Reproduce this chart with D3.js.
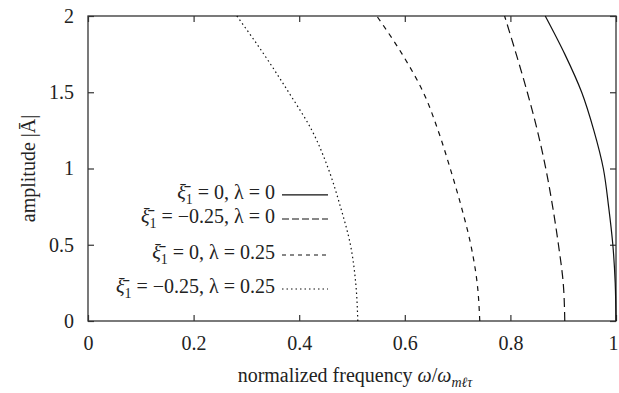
<!DOCTYPE html>
<html>
<head>
<meta charset="utf-8">
<script src="https://cdn.jsdelivr.net/npm/d3@7"></script>
<style>
  body { margin: 0; background: #fff; }
</style>
</head>
<body>
<div id="chart"></div>
<script>
  // amplitude values shared by every curve
  var amplitude = [0, 0.25, 0.5, 0.75, 1, 1.25, 1.5, 1.75, 2];

  // normalized frequency, one list per curve
  var freqXi0Lam0 = [1.0, 0.9985, 0.994, 0.986, 0.976, 0.958, 0.935, 0.903, 0.866];
  var freqXiM025Lam0 = [0.903, 0.900, 0.891, 0.880, 0.867, 0.851, 0.832, 0.811, 0.789];
  var freqXi0Lam025 = [0.742, 0.737, 0.725, 0.707, 0.686, 0.663, 0.635, 0.595, 0.547];
  var freqXiM025Lam025 = [0.511, 0.507, 0.497, 0.478, 0.455, 0.424, 0.38, 0.333, 0.282];

  var xi = ["0", "\u22120.25", "0", "\u22120.25"];
  var lambda = ["0", "0", "0.25", "0.25"];

  var xTicks = [0, 0.2, 0.4, 0.6, 0.8, 1];
  var yTicks = [0, 0.5, 1, 1.5, 2];

  var series = [
      { f: freqXi0Lam0, dash: null, legendDash: null },
      { f: freqXiM025Lam0, dash: "9,5", legendDash: "7,3" },
      { f: freqXi0Lam025, dash: "5,5", legendDash: "4,4" },
      { f: freqXiM025Lam025, dash: "1.5,3", legendDash: "1.5,3" }
  ];

  var serif = "'Liberation Serif', 'DejaVu Serif', serif";

  var margin = { top: 16, right: 3, bottom: 72, left: 88 },
      width = 619 - margin.left - margin.right,
      height = 393 - margin.top - margin.bottom;

  var svg = d3.select("#chart")
      .append("svg")
      .attr("width", 619)
      .attr("height", 393)
      .attr("font-family", serif)
      .append("g")
      .attr("transform", "translate(" + margin.left + "," + margin.top + ")");

  var x = d3.scaleLinear().domain([0, 1]).range([0, width]);
  var y = d3.scaleLinear().domain([0, 2]).range([height, 0]);

  var tickLen = 6;
  var fontSize = 20;

  // axes with labels (bottom, left) and mirrored ticks (top, right)
  var xAxis = svg.append("g")
      .attr("transform", "translate(0," + height + ")")
      .call(d3.axisBottom(x).tickValues(xTicks).tickSize(-tickLen).tickPadding(15)
          .tickFormat(d3.format("")));
  var yAxis = svg.append("g")
      .call(d3.axisLeft(y).tickValues(yTicks).tickSize(-tickLen).tickPadding(14)
          .tickFormat(d3.format("")));
  var xTop = svg.append("g")
      .call(d3.axisTop(x).tickValues(xTicks).tickSize(-tickLen).tickFormat(""));
  var yRight = svg.append("g")
      .attr("transform", "translate(" + width + ",0)")
      .call(d3.axisRight(y).tickValues(yTicks).tickSize(-tickLen).tickFormat(""));

  [xAxis, yAxis, xTop, yRight].forEach(function (a) {
      a.attr("font-family", serif).attr("font-size", fontSize);
      a.select(".domain").remove();
      a.selectAll("line").attr("stroke", "#333").attr("stroke-width", 1.2);
      a.selectAll("text").attr("fill", "#222");
  });
  // last x label sits against the page edge
  xAxis.selectAll("text").filter(function (d) { return d === 1; }).attr("dx", -3);

  svg.append("rect")
      .attr("width", width)
      .attr("height", height)
      .attr("fill", "none")
      .attr("stroke", "#333")
      .attr("stroke-width", 1.3);

  // curves
  var line = d3.line()
      .x(function (d) { return x(d[0]); })
      .y(function (d) { return y(d[1]); })
      .curve(d3.curveMonotoneY);

  series.forEach(function (s) {
      var pts = amplitude.map(function (a, i) { return [s.f[i], a]; });
      svg.append("path")
          .datum(pts)
          .attr("d", line)
          .attr("fill", "none")
          .attr("stroke", "#111")
          .attr("stroke-width", 1.2)
          .attr("stroke-dasharray", s.dash);
  });

  // legend
  var legendY = [y(0.84), y(0.682), y(0.446), y(0.223)];
  var textRight = 275 - margin.left;
  series.forEach(function (s, i) {
      var t = svg.append("text")
          .attr("x", textRight)
          .attr("y", legendY[i] + 6)
          .attr("text-anchor", "end")
          .attr("fill", "#222")
          .attr("font-size", fontSize);
      t.append("tspan").style("font-style", "italic").text("\u03BE\u0304");
      t.append("tspan").attr("dy", 5).attr("font-size", 14).text("1");
      t.append("tspan").attr("dy", -5).text(" = " + xi[i] + ", \u03BB = " + lambda[i]);

      svg.append("line")
          .attr("x1", 282 - margin.left)
          .attr("x2", 328 - margin.left)
          .attr("y1", legendY[i] + 2)
          .attr("y2", legendY[i] + 2)
          .attr("stroke", "#111")
          .attr("stroke-width", 1.2)
          .attr("stroke-dasharray", s.legendDash);
  });

  // axis titles
  var xt = svg.append("text")
      .attr("x", (355 - margin.left))
      .attr("y", height + 61)
      .attr("text-anchor", "middle")
      .attr("fill", "#222")
      .attr("font-size", fontSize);
  xt.append("tspan").text("normalized frequency ");
  xt.append("tspan").style("font-style", "italic").text("\u03C9");
  xt.append("tspan").text("/");
  xt.append("tspan").style("font-style", "italic").text("\u03C9");
  xt.append("tspan").attr("dy", 5).attr("font-size", 14).style("font-style", "italic")
      .text("m\u2113\u03C4");

  svg.append("text")
      .attr("transform", "translate(" + (35 - margin.left) + "," + (height / 2) + ") rotate(-90)")
      .attr("text-anchor", "middle")
      .attr("fill", "#222")
      .attr("font-size", fontSize)
      .text("amplitude |\u0100|");
</script>
</body>
</html>
